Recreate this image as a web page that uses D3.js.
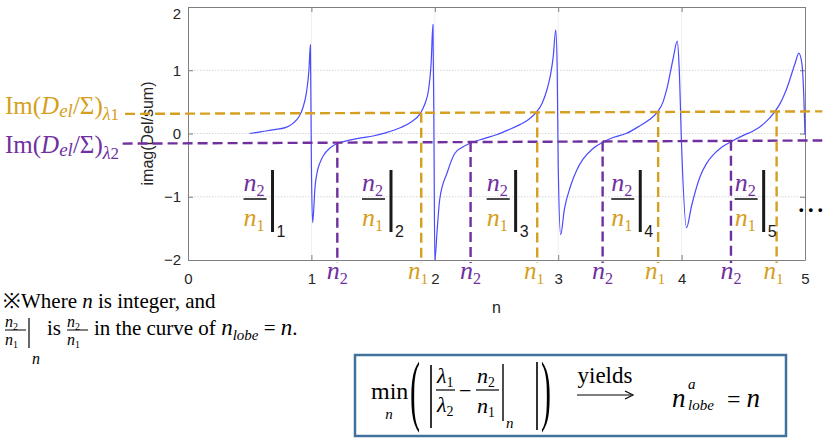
<!DOCTYPE html>
<html><head><meta charset="utf-8">
<script src="https://cdn.jsdelivr.net/npm/d3@7"></script>
<style>body{margin:0;background:#fff;} svg{display:block;}</style>
</head><body>
<svg id="c" width="827" height="441"></svg>
<script>
// ---- data ----
const curveN = [0.50,0.60,0.70,0.80,0.85,0.90,0.93,0.96,0.98,0.992,1.000,1.010,1.03,1.05,1.07,1.10,1.15,1.22,1.30,1.40,1.50,1.60,1.72,1.80,1.88,1.92,1.95,1.97,1.985,1.993,2.000,2.02,2.04,2.10,2.16,2.22,2.29,2.40,2.50,2.60,2.69,2.76,2.82,2.87,2.91,2.94,2.96,2.98,2.992,3.000,3.02,3.05,3.10,3.15,3.20,3.28,3.36,3.45,3.55,3.66,3.74,3.80,3.85,3.88,3.93,3.965,3.98,4.00,4.04,4.08,4.15,4.20,4.26,4.33,4.41,4.50,4.58,4.67,4.75,4.80,4.85,4.92,4.95,4.975,4.99,5.00];
const curveV = [0.00,0.03,0.06,0.10,0.16,0.27,0.40,0.65,1.00,1.40,-0.50,-1.41,-0.83,-0.58,-0.46,-0.34,-0.23,-0.15,-0.11,-0.07,-0.04,0.01,0.09,0.17,0.31,0.47,0.70,1.10,1.72,0.00,-2.00,-1.50,-1.04,-0.62,-0.32,-0.22,-0.15,-0.08,-0.02,0.06,0.14,0.22,0.33,0.48,0.70,0.95,1.22,1.64,1.00,-0.50,-1.60,-1.20,-0.83,-0.58,-0.41,-0.24,-0.14,-0.06,0.00,0.12,0.22,0.33,0.50,0.70,1.17,1.46,1.06,-0.20,-1.49,-1.15,-0.68,-0.48,-0.33,-0.21,-0.12,-0.03,0.04,0.16,0.33,0.48,0.70,1.11,1.27,1.10,0.60,-0.02];
const xTicks = [0,1,2,3,4,5];
const yTicks = [-2,-1,0,1,2];
const lambda1N = [-0.51,5.14], lambda1V = [0.31,0.35];
const lambda2N = [-0.53,5.14], lambda2V = [-0.16,-0.11];
const n2Pos = [1.21,2.29,3.36,4.40];
const n1Pos = [1.89,2.83,3.81,4.77];
const fracPos = [0.45,1.41,2.42,3.43,4.43];
const fracIdx = ["1","2","3","4","5"];

// ---- styles ----
const GOLD = "#D5A021", PURP = "#7030A0", BLUE = "#4a4aff";
const SERIF = "'Liberation Serif', 'Times New Roman', serif";
const SANS = "'Liberation Sans', Arial, sans-serif";

const svg = d3.select("#c");
const x = d3.scaleLinear().domain([0,5]).range([188,805]);
const y = d3.scaleLinear().domain([-2,2]).range([260,7]);

// grid
const grid = svg.append("g");
grid.selectAll("line.h").data([-1,0,1]).join("line")
  .attr("x1",x(0)).attr("x2",x(5)).attr("y1",d=>y(d)).attr("y2",d=>y(d))
  .attr("stroke","#d6d6d6").attr("stroke-dasharray","1.5,1.5");
grid.selectAll("line.v").data([1,2,3,4]).join("line")
  .attr("y1",y(-2)).attr("y2",y(2)).attr("x1",d=>x(d)).attr("x2",d=>x(d))
  .attr("stroke","#efefef");

// axes
function styleAxis(g){
  g.select(".domain").attr("stroke","#7f7f7f");
  g.selectAll(".tick line").attr("stroke","#7f7f7f");
  g.selectAll(".tick text").attr("fill","#262626").style("font-family",SANS).style("font-size","15px");
}
svg.append("g").attr("transform",`translate(0,${y(-2)})`)
  .call(d3.axisBottom(x).tickValues(xTicks).tickSizeInner(-5).tickSizeOuter(0).tickPadding(13).tickFormat(d3.format("d"))).call(styleAxis);
svg.append("g").attr("transform",`translate(0,${y(2)})`)
  .call(d3.axisTop(x).tickValues(xTicks).tickSizeInner(-5).tickSizeOuter(0).tickFormat("")).call(styleAxis);
const gy = svg.append("g").attr("transform",`translate(${x(0)},0)`)
  .call(d3.axisLeft(y).tickValues(yTicks).tickSizeInner(-5).tickSizeOuter(0).tickPadding(7).tickFormat(d3.format("d"))).call(styleAxis);
gy.selectAll(".tick text").filter(d=>d===2).attr("dy","0.75em");
svg.append("g").attr("transform",`translate(${x(5)},0)`)
  .call(d3.axisRight(y).tickValues(yTicks).tickSizeInner(-5).tickSizeOuter(0).tickFormat("")).call(styleAxis);

// axis labels
svg.append("text").attr("x",(x(0)+x(5))/2).attr("y",313).attr("text-anchor","middle")
  .attr("fill","#262626").style("font-family",SANS).style("font-size","16px").text("n");
svg.append("text").attr("transform",`translate(153,${(y(-2)+y(2))/2}) rotate(-90)`).attr("text-anchor","middle")
  .attr("fill","#262626").style("font-family",SANS).style("font-size","16px").text("imag(Del/sum)");

// curve
const pts = curveN.map((n,i)=>[n,curveV[i]]);
svg.append("path").datum(pts)
  .attr("d",d3.line().x(d=>x(d[0])).y(d=>y(d[1])).curve(d3.curveMonotoneX))
  .attr("fill","none").attr("stroke",BLUE).attr("stroke-width",1.2);

// horizontal dashed lines
function lineAt(ns,vs,n){ return d3.scaleLinear().domain(ns).range(vs)(n); }
svg.append("line").attr("x1",x(lambda1N[0])).attr("x2",x(lambda1N[1]))
  .attr("y1",y(lambda1V[0])).attr("y2",y(lambda1V[1]))
  .attr("stroke",GOLD).attr("stroke-width",2.4).attr("stroke-dasharray","10,5");
svg.append("line").attr("x1",x(lambda2N[0])).attr("x2",x(lambda2N[1]))
  .attr("y1",y(lambda2V[0])).attr("y2",y(lambda2V[1]))
  .attr("stroke",PURP).attr("stroke-width",2.4).attr("stroke-dasharray","10,5");

// vertical dashed lines
svg.selectAll("line.n2").data(n2Pos).join("line")
  .attr("x1",d=>x(d)).attr("x2",d=>x(d)).attr("y1",d=>y(lineAt(lambda2N,lambda2V,d))).attr("y2",263)
  .attr("stroke",PURP).attr("stroke-width",2.4).attr("stroke-dasharray","10,5");
svg.selectAll("line.n1").data(n1Pos).join("line")
  .attr("x1",d=>x(d)).attr("x2",d=>x(d)).attr("y1",d=>y(lineAt(lambda1N,lambda1V,d))).attr("y2",263)
  .attr("stroke",GOLD).attr("stroke-width",2.4).attr("stroke-dasharray","10,5");

// n-labels under axis
function nSub(g, xx, yy, sub, color, size, anchor){
  const t = g.append("text").attr("x",xx).attr("y",yy).attr("fill",color)
    .attr("text-anchor",anchor||"start").style("font-family",SERIF).style("font-size",size+"px");
  t.append("tspan").style("font-style","italic").text("n");
  t.append("tspan").attr("dy",size*0.18).style("font-size",(size*0.62)+"px").text(sub);
  return t;
}
n2Pos.forEach(p=>nSub(svg,x(p),279,"2",PURP,26,"middle"));
n1Pos.forEach(p=>nSub(svg,x(p)-3,279,"1",GOLD,25,"middle"));

// fraction labels inside the plot
fracPos.forEach((p,i)=>{
  const x0 = x(p), by = 199;
  nSub(svg,x0,by-8,"2",PURP,26);
  svg.append("line").attr("x1",x0).attr("x2",x0+23).attr("y1",by).attr("y2",by).attr("stroke","#333").attr("stroke-width",1.8);
  nSub(svg,x0,by+27,"1",GOLD,26);
  svg.append("line").attr("x1",x0+29).attr("x2",x0+29).attr("y1",170).attr("y2",232).attr("stroke","#1a1a1a").attr("stroke-width",3);
  svg.append("text").attr("x",x0+33).attr("y",237).attr("fill","#1a1a1a").style("font-family",SANS).style("font-size","16px").text(fracIdx[i]);
});
svg.append("text").attr("x",799).attr("y",214).attr("fill","#000").style("font-family",SANS)
  .style("font-size","13px").style("font-weight","bold").attr("letter-spacing","5px").text("•••");

// left labels
function imLabel(yy,color,sub){
  const t = svg.append("text").attr("x",5).attr("y",yy).attr("fill",color).style("font-family",SERIF).style("font-size","25px");
  t.append("tspan").text("Im(");
  t.append("tspan").style("font-style","italic").text("D");
  t.append("tspan").style("font-style","italic").style("font-size","19px").attr("dy",3).text("el");
  t.append("tspan").attr("dy",-3).text("/Σ)");
  t.append("tspan").style("font-style","italic").style("font-size","18px").attr("dy",6).text("λ");
  t.append("tspan").style("font-size","17px").text(sub);
  return t;
}
imLabel(114,GOLD,"1");
imLabel(153,PURP,"2");

// bottom note
const note1 = svg.append("text").attr("x",3).attr("y",308).attr("fill","#000").style("font-family",SERIF).style("font-size","21px");
note1.append("tspan").text("※Where ");
note1.append("tspan").style("font-style","italic").text("n");
note1.append("tspan").text(" is integer,  and");

function smallFrac(x0){
  nSub(svg,x0,327,"2","#000",16);
  svg.append("line").attr("x1",x0).attr("x2",x0+21).attr("y1",330).attr("y2",330).attr("stroke","#000").attr("stroke-width",1);
  nSub(svg,x0,345,"1","#000",16);
}
smallFrac(5);
svg.append("line").attr("x1",29).attr("x2",29).attr("y1",318).attr("y2",348).attr("stroke","#000").attr("stroke-width",1.2);
svg.append("text").attr("x",32).attr("y",364).style("font-family",SERIF).style("font-style","italic").style("font-size","16px").text("n");
svg.append("text").attr("x",47).attr("y",335).style("font-family",SERIF).style("font-size","21px").text("is");
smallFrac(67);
const note2 = svg.append("text").attr("x",94).attr("y",335).attr("fill","#000").style("font-family",SERIF).style("font-size","21px");
note2.append("tspan").text("in the curve of ");
note2.append("tspan").style("font-style","italic").style("font-size","23px").text("n");
note2.append("tspan").style("font-style","italic").style("font-size","15px").attr("dy",5).text("lobe");
note2.append("tspan").attr("dy",-5).text(" = ");
note2.append("tspan").style("font-style","italic").style("font-size","23px").text("n");
note2.append("tspan").text(".");

// formula box
svg.append("rect").attr("x",355).attr("y",355).attr("width",431).attr("height",81)
  .attr("fill","#fff").attr("stroke","#41719C").attr("stroke-width",2.5);
const F = svg.append("g").attr("fill","#000").style("font-family",SERIF);
F.append("text").attr("x",371).attr("y",399).style("font-size","24px").text("min");
F.append("text").attr("x",389).attr("y",419).attr("text-anchor","middle").style("font-style","italic").style("font-size","15px").text("n");
F.append("text").attr("transform","translate(410,416) scale(1,2.6)").style("font-size","30px").text("(");
F.append("line").attr("x1",431).attr("x2",431).attr("y1",365).attr("y2",428).attr("stroke","#000").attr("stroke-width",1.6);
const lam1 = F.append("text").attr("x",437).attr("y",383).style("font-size","22px");
lam1.append("tspan").style("font-style","italic").text("λ");
lam1.append("tspan").attr("dy",4).style("font-size","14px").text("1");
F.append("line").attr("x1",436).attr("x2",455).attr("y1",390).attr("y2",390).attr("stroke","#000").attr("stroke-width",1.2);
const lam2 = F.append("text").attr("x",437).attr("y",412).style("font-size","22px");
lam2.append("tspan").style("font-style","italic").text("λ");
lam2.append("tspan").attr("dy",4).style("font-size","14px").text("2");
F.append("text").attr("x",459).attr("y",398).style("font-size","22px").text("−");
nSub(F,477,383,"2","#000",22);
F.append("line").attr("x1",476).attr("x2",499).attr("y1",390).attr("y2",390).attr("stroke","#000").attr("stroke-width",1.2);
nSub(F,477,413,"1","#000",22);
F.append("line").attr("x1",503).attr("x2",503).attr("y1",364).attr("y2",421).attr("stroke","#000").attr("stroke-width",1.4);
F.append("text").attr("x",506).attr("y",428).style("font-style","italic").style("font-size","15px").text("n");
F.append("line").attr("x1",537).attr("x2",537).attr("y1",362).attr("y2",430).attr("stroke","#000").attr("stroke-width",1.6);
F.append("text").attr("transform","translate(541,416) scale(1,2.6)").style("font-size","30px").text(")");
F.append("text").attr("x",605).attr("y",383).attr("text-anchor","middle").style("font-size","23px").text("yields");
F.append("line").attr("x1",577).attr("x2",631).attr("y1",395).attr("y2",395).attr("stroke","#000").attr("stroke-width",1.2);
F.append("path").attr("d","M625,391 L633,395 L625,399").attr("fill","none").attr("stroke","#000").attr("stroke-width",1.2);
F.append("text").attr("x",672).attr("y",407).style("font-style","italic").style("font-size","27px").text("n");
F.append("text").attr("x",688).attr("y",389).style("font-style","italic").style("font-size","15px").text("a");
F.append("text").attr("x",688).attr("y",410).style("font-style","italic").style("font-size","15px").text("lobe");
const eq = F.append("text").attr("x",727).attr("y",407).style("font-size","24px");
eq.append("tspan").text("= ");
eq.append("tspan").style("font-style","italic").style("font-size","27px").text("n");
</script>
</body></html>
